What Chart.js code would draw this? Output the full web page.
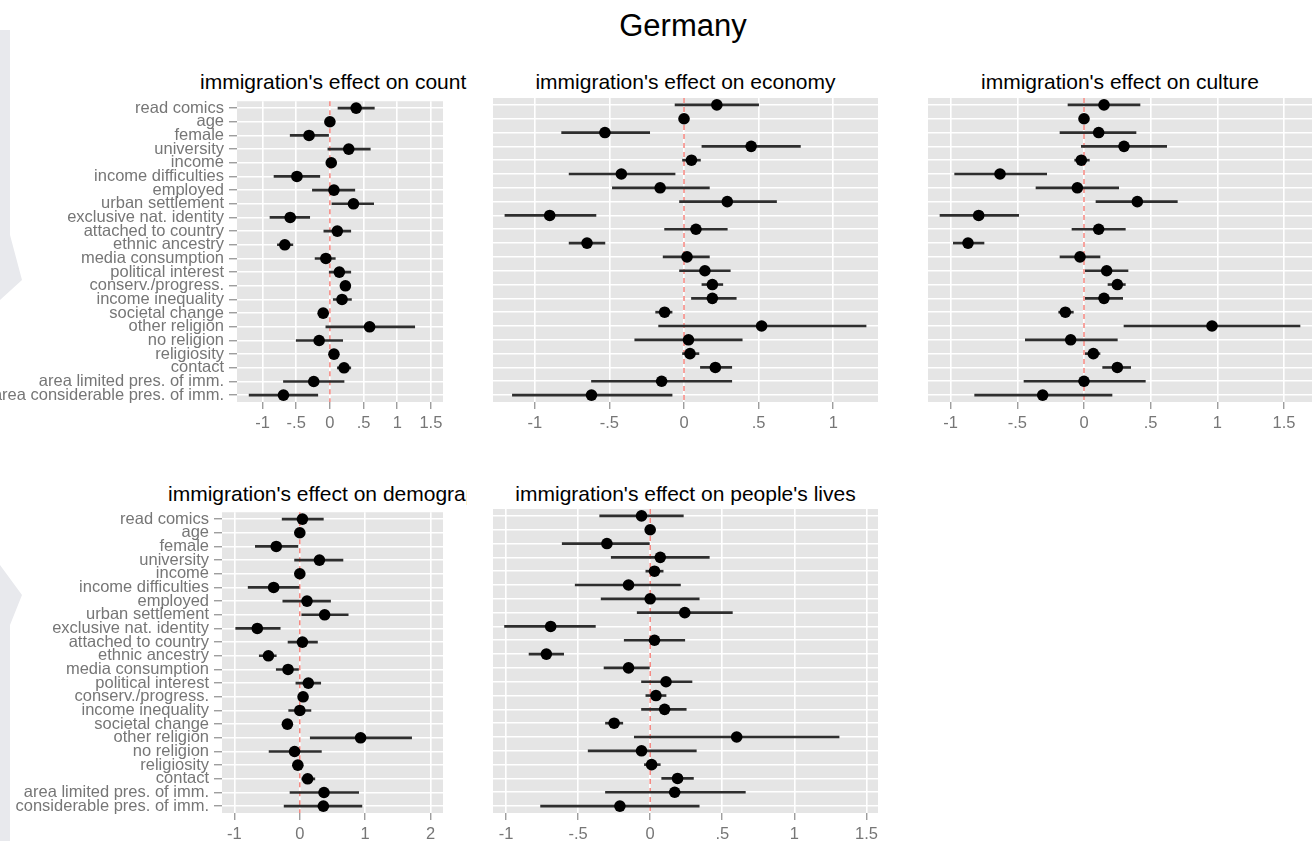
<!DOCTYPE html>
<html>
<head>
<meta charset="utf-8">
<script src="https://cdn.jsdelivr.net/npm/chart.js@4/dist/chart.umd.min.js"></script>
<style>
  html, body { margin: 0; padding: 0; background: #fff; }
  body { width: 1315px; height: 841px; position: relative; overflow: hidden; font-family: "Liberation Sans", Arial, sans-serif; }
  .strip { position: absolute; background: #e8e9ed; }
  .main { position: absolute; left: 533px; width: 300px; top: 8px; text-align: center; font-size: 31px; line-height: 36px; color: #000; }
  .ptitle { position: absolute; font-size: 21px; line-height: 24px; color: #000; white-space: nowrap; overflow: hidden; }
  .panel { position: absolute; }
</style>
</head>
<body>
<div class="strip" style="left:0;top:30px;width:22px;height:270px;clip-path:polygon(0 0,10px 0,10px 205px,22px 250px,0 270px)"></div>
<div class="strip" style="left:0;top:565px;width:22px;height:276px;clip-path:polygon(0 0,22px 30px,10px 60px,10px 276px,0 276px)"></div>
<div class="main">Germany</div>

<div class="ptitle" style="left:200px;top:70px;width:267px">immigration's effect on country</div>
<div class="ptitle" style="left:493px;top:70px;width:385px;text-align:center">immigration's effect on economy</div>
<div class="ptitle" style="left:928px;top:70px;width:384px;text-align:center">immigration's effect on culture</div>
<div class="ptitle" style="left:168px;top:482px;width:299px">immigration's effect on demography</div>
<div class="ptitle" style="left:493px;top:482px;width:385px;text-align:center">immigration's effect on people's lives</div>

<div class="panel" id="p1"><canvas id="c1"></canvas></div>
<div class="panel" id="p2"><canvas id="c2"></canvas></div>
<div class="panel" id="p3"><canvas id="c3"></canvas></div>
<div class="panel" id="p4"><canvas id="c4"></canvas></div>
<div class="panel" id="p5"><canvas id="c5"></canvas></div>

<script>
const $ = id => document.getElementById(id);

const labels = ['read comics', 'age', 'female', 'university', 'income', 'income difficulties', 'employed',
  'urban settlement', 'exclusive nat. identity', 'attached to country', 'ethnic ancestry', 'media consumption',
  'political interest', 'conserv./progress.', 'income inequality', 'societal change', 'other religion',
  'no religion', 'religiosity', 'contact', 'area limited pres. of imm.', 'area considerable pres. of imm.'];

// country
const countryEst = [0.39, 0.00, -0.31, 0.28, 0.02, -0.49, 0.06, 0.35, -0.59, 0.11, -0.67, -0.06, 0.14, 0.23, 0.18, -0.10, 0.59, -0.16, 0.06, 0.21, -0.24, -0.69];
const countryLo  = [0.12, -0.02, -0.59, -0.03, 0.00, -0.83, -0.26, 0.03, -0.89, -0.09, -0.78, -0.22, -0.01, 0.16, 0.05, -0.16, -0.06, -0.50, 0.00, 0.11, -0.69, -1.20];
const countryHi  = [0.66, 0.02, -0.02, 0.60, 0.05, -0.15, 0.37, 0.65, -0.30, 0.31, -0.55, 0.08, 0.31, 0.30, 0.32, -0.03, 1.26, 0.19, 0.11, 0.31, 0.21, -0.18];
// economy
const economyEst = [0.22, 0.00, -0.53, 0.45, 0.05, -0.42, -0.16, 0.29, -0.90, 0.08, -0.65, 0.02, 0.14, 0.19, 0.19, -0.13, 0.52, 0.03, 0.04, 0.21, -0.15, -0.62];
const economyLo  = [-0.06, -0.01, -0.82, 0.12, -0.01, -0.77, -0.48, -0.03, -1.20, -0.13, -0.77, -0.14, -0.03, 0.12, 0.05, -0.19, -0.17, -0.33, -0.01, 0.11, -0.62, -1.15];
const economyHi  = [0.50, 0.01, -0.23, 0.78, 0.11, -0.06, 0.17, 0.62, -0.59, 0.29, -0.53, 0.17, 0.31, 0.26, 0.35, -0.08, 1.22, 0.39, 0.10, 0.32, 0.32, -0.08];
// culture
const cultureEst = [0.15, 0.00, 0.11, 0.30, -0.02, -0.63, -0.05, 0.40, -0.79, 0.11, -0.87, -0.03, 0.17, 0.25, 0.15, -0.14, 0.96, -0.10, 0.07, 0.25, 0.00, -0.31];
const cultureLo  = [-0.12, -0.01, -0.18, -0.02, -0.07, -0.97, -0.36, 0.09, -1.08, -0.09, -0.98, -0.18, 0.01, 0.18, 0.01, -0.19, 0.30, -0.44, 0.01, 0.14, -0.45, -0.82];
const cultureHi  = [0.42, 0.01, 0.39, 0.62, 0.04, -0.28, 0.26, 0.70, -0.49, 0.31, -0.75, 0.12, 0.33, 0.31, 0.29, -0.08, 1.62, 0.25, 0.12, 0.35, 0.46, 0.21];
// demography
const demoEst = [0.04, 0.00, -0.36, 0.30, 0.00, -0.40, 0.11, 0.38, -0.65, 0.04, -0.48, -0.18, 0.13, 0.05, 0.00, -0.19, 0.93, -0.08, -0.03, 0.12, 0.37, 0.36];
const demoLo  = [-0.27, -0.01, -0.68, -0.08, -0.01, -0.79, -0.26, 0.03, -0.98, -0.18, -0.62, -0.36, -0.06, -0.02, -0.17, -0.24, 0.16, -0.47, -0.08, 0.03, -0.15, -0.24];
const demoHi  = [0.36, 0.01, -0.03, 0.66, 0.01, 0.00, 0.47, 0.74, -0.30, 0.27, -0.36, -0.02, 0.32, 0.11, 0.17, -0.14, 1.71, 0.33, 0.03, 0.23, 0.90, 0.95];
// people's lives
const livesEst = [-0.06, 0.00, -0.30, 0.07, 0.03, -0.15, 0.00, 0.24, -0.69, 0.03, -0.72, -0.15, 0.11, 0.04, 0.10, -0.25, 0.60, -0.06, 0.01, 0.19, 0.17, -0.21];
const livesLo  = [-0.35, -0.01, -0.61, -0.27, -0.03, -0.52, -0.34, -0.09, -1.01, -0.18, -0.84, -0.32, -0.06, -0.03, -0.06, -0.31, -0.11, -0.43, -0.04, 0.08, -0.31, -0.76];
const livesHi  = [0.23, 0.01, 0.00, 0.41, 0.09, 0.21, 0.34, 0.57, -0.38, 0.24, -0.60, 0.00, 0.29, 0.11, 0.25, -0.19, 1.31, 0.32, 0.07, 0.30, 0.66, 0.34];

const GREY = '#767676';
const FONT = '"Liberation Sans", Arial, sans-serif';

// panel background + dashed zero line
const panelBg = {
  id: 'panelBg',
  beforeDraw(chart) {
    const a = chart.chartArea, c = chart.ctx;
    c.save();
    c.fillStyle = '#e5e5e5';
    c.fillRect(a.left, a.top, a.right - a.left, a.bottom - a.top);
    c.restore();
  },
  beforeDatasetsDraw(chart) {
    const a = chart.chartArea, c = chart.ctx;
    const x0 = chart.scales.x.getPixelForValue(0);
    c.save();
    c.strokeStyle = '#f4736b';
    c.lineWidth = 1.3;
    c.setLineDash([5, 4]);
    c.beginPath();
    c.moveTo(x0, a.top);
    c.lineTo(x0, a.bottom);
    c.stroke();
    c.restore();
  }
};

const tickFmt = v => String(Math.round(v * 100) / 100).replace(/^(-?)0\./, '$1.');

function makePanel(id, canvasId, box, est, lo, hi, xmin, xmax, step, showLabels) {
  const padT = 10, padR = 12;
  const padL = showLabels ? 0 : 10;
  const yw = showLabels ? box.l - box.left : 0;
  const left = showLabels ? box.left : box.l - padL;
  const el = $(id);
  el.style.left = left + 'px';
  el.style.top = (box.t - padT) + 'px';
  el.style.width = (box.r - left + padR) + 'px';
  el.style.height = (box.b - box.t + padT + box.xh) + 'px';

  return new Chart($(canvasId), {
    type: 'bar',
    data: {
      labels: labels,
      datasets: [
        { type: 'line', data: est, showLine: false, pointRadius: 5.8, pointHoverRadius: 5.8,
          pointBackgroundColor: '#000', pointBorderColor: '#000', pointBorderWidth: 0, order: 0 },
        { type: 'bar', data: lo.map((v, i) => [v, hi[i]]), backgroundColor: '#2e2e2e',
          barThickness: 2, borderWidth: 0, order: 1 }
      ]
    },
    options: {
      indexAxis: 'y',
      responsive: true, maintainAspectRatio: false, animation: false,
      layout: { padding: { top: padT, right: padR, left: padL, bottom: 0 } },
      plugins: { legend: { display: false }, tooltip: { enabled: false } },
      scales: {
        x: {
          type: 'linear', min: xmin, max: xmax,
          border: { display: false },
          grid: { color: '#ffffff', lineWidth: 1.6, tickColor: GREY, tickLength: 7, tickWidth: 1 },
          ticks: { stepSize: step, includeBounds: false, color: GREY, padding: 5,
                   font: { family: FONT, size: 16.5 }, callback: tickFmt, maxRotation: 0 },
          afterFit: s => { s.height = box.xh; }
        },
        y: {
          type: 'category', offset: true,
          border: { display: false },
          grid: { offset: false, color: '#ffffff', lineWidth: 1.6, drawTicks: showLabels,
                  tickColor: GREY, tickLength: 8, tickWidth: 1 },
          ticks: { display: showLabels, autoSkip: false, color: GREY, padding: 5,
                   font: { family: FONT, size: 16.5, lineHeight: 1 } },
          afterFit: s => { s.width = yw; }
        }
      }
    },
    plugins: [panelBg]
  });
}

makePanel('p1', 'c1', { left: 0, l: 237, r: 443, t: 98, b: 402, xh: 36 }, countryEst, countryLo, countryHi, -1.38, 1.68, 0.5, true);
makePanel('p2', 'c2', { l: 493, r: 878, t: 98, b: 402, xh: 36 }, economyEst, economyLo, economyHi, -1.28, 1.30, 0.5, false);
makePanel('p3', 'c3', { l: 928, r: 1312, t: 98, b: 402, xh: 36 }, cultureEst, cultureLo, cultureHi, -1.17, 1.71, 0.5, false);
makePanel('p4', 'c4', { left: 15, l: 222, r: 443, t: 509, b: 813, xh: 28 }, demoEst, demoLo, demoHi, -1.19, 2.19, 1, true);
makePanel('p5', 'c5', { l: 493, r: 878, t: 509, b: 813, xh: 28 }, livesEst, livesLo, livesHi, -1.09, 1.58, 0.5, false);
</script>
</body>
</html>
